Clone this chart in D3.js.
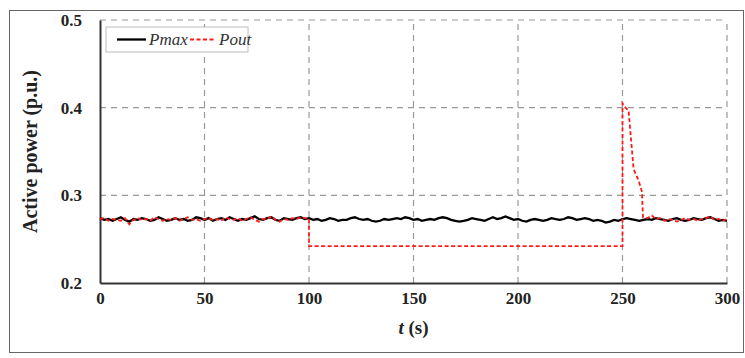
<!DOCTYPE html>
<html>
<head>
<meta charset="utf-8">
<script src="https://cdn.jsdelivr.net/npm/d3@7"></script>
<style>
    body { margin: 0; background: #fff; }
    svg text { font-family: "Liberation Serif", "Times New Roman", serif; }
</style>
</head>
<body>
<div id="chart"></div>
<script>
// x ticks / y ticks
const xTicks = [0, 50, 100, 150, 200, 250, 300];
const yTicks = [0.2, 0.3, 0.4, 0.5];

// Pmax, sampled every 2 s from 0 to 300
const pmaxStep = 2;
const pmax = [
    0.274,0.272,0.273,0.271,0.273,0.275,0.272,0.270,0.273,0.272,
    0.274,0.273,0.271,0.272,0.275,0.273,0.271,0.272,0.274,0.272,
    0.273,0.271,0.272,0.275,0.274,0.272,0.274,0.271,0.273,0.274,
    0.272,0.275,0.273,0.271,0.273,0.272,0.274,0.276,0.273,0.272,
    0.274,0.275,0.272,0.271,0.274,0.273,0.272,0.274,0.275,0.273,
    0.274,
    0.272,0.273,0.271,0.272,0.274,0.273,0.271,0.272,0.272,0.274,
    0.275,0.273,0.272,0.273,0.271,0.270,0.271,0.273,0.272,0.273,
    0.274,0.273,0.275,0.274,0.272,0.273,0.271,0.272,0.273,0.272,
    0.274,0.275,0.274,0.272,0.271,0.270,0.271,0.272,0.274,0.273,
    0.272,0.271,0.273,0.275,0.273,0.274,0.276,0.274,0.272,0.273,
    0.271,0.270,0.272,0.273,0.272,0.271,0.272,0.274,0.273,0.272,
    0.273,0.275,0.274,0.272,0.273,0.274,0.273,0.271,0.272,0.271,
    0.269,0.270,0.272,0.271,0.273,0.274,0.273,0.272,0.271,0.272,
    0.273,0.272,0.274,0.273,0.272,0.271,0.273,0.274,0.272,0.271,
    0.272,0.274,0.273,0.272,0.274,0.275,0.273,0.271,0.272,0.271
];

// Pout before the event, every 2 s from 0 to 100
const poutHead = [
    0.273,0.274,0.271,0.273,0.272,0.271,0.274,0.267,0.272,0.274,
    0.272,0.273,0.271,0.275,0.273,0.271,0.273,0.272,0.274,0.271,
    0.273,0.275,0.272,0.273,0.271,0.273,0.274,0.272,0.273,0.271,
    0.275,0.273,0.272,0.274,0.271,0.273,0.275,0.272,0.270,0.273,
    0.273,0.276,0.272,0.270,0.273,0.272,0.274,0.273,0.275,0.274,
    0.273
];
// Pout during curtailment and release
const poutEventT = [100, 100, 250, 250, 251.8, 252.9, 255.3, 257.7, 259.3, 259.8];
const poutEventV = [0.273, 0.242, 0.242, 0.405, 0.399, 0.397, 0.330, 0.317, 0.304, 0.275];
// Pout after recovery, every 2 s from 260 to 300
const poutTailStart = 260;
const poutTail = [
    0.275,0.274,0.277,0.273,0.274,0.271,0.273,0.272,0.270,0.272,
    0.274,0.272,0.273,0.271,0.273,0.274,0.276,0.272,0.273,0.271,
    0.273
];

const W = 745, H = 358;
const margin = {left: 100, right: 18, top: 20, bottom: 75};

const svg = d3.select("#chart").append("svg")
    .attr("width", W)
    .attr("height", H);

// outer frame
svg.append("rect")
    .attr("x", 9.5).attr("y", 10.5)
    .attr("width", 734).attr("height", 342)
    .attr("fill", "none")
    .attr("stroke", "#666")
    .attr("stroke-width", 1);

const x = d3.scaleLinear().domain([0, 300]).range([margin.left, W - margin.right]);
const y = d3.scaleLinear().domain([0.2, 0.5]).range([H - margin.bottom, margin.top]);

// grid
const grid = svg.append("g");
grid.selectAll(".vg")
    .data(xTicks.filter(d => d > 0))
    .enter().append("line")
    .attr("x1", d => x(d)).attr("x2", d => x(d))
    .attr("y1", y(0.2)).attr("y2", y(0.5))
    .attr("stroke", "#999").attr("stroke-width", 1.2)
    .attr("stroke-dasharray", "6,5");
grid.selectAll(".hg")
    .data(yTicks.filter(d => d > 0.2))
    .enter().append("line")
    .attr("x1", x(0)).attr("x2", x(300))
    .attr("y1", d => y(d)).attr("y2", d => y(d))
    .attr("stroke", "#999").attr("stroke-width", 1.2)
    .attr("stroke-dasharray", "6,5");

// axes
const xAxis = svg.append("g")
    .attr("transform", `translate(0,${y(0.2)})`)
    .call(d3.axisBottom(x).tickValues(xTicks).tickSize(0).tickPadding(9));
const yAxis = svg.append("g")
    .attr("transform", `translate(${x(0)},0)`)
    .call(d3.axisLeft(y).tickValues(yTicks).tickFormat(d3.format(".1f")).tickSize(0).tickPadding(18));
[xAxis, yAxis].forEach(a => {
    a.select(".domain").attr("stroke", "#333").attr("stroke-width", 2);
    a.selectAll("text")
        .attr("fill", "#222")
        .style("font-size", "17px")
        .style("font-weight", "bold")
        .style("font-family", "'Liberation Serif', serif");
});

// series
const pmaxData = pmax.map((v, i) => [i * pmaxStep, v]);
const poutData = poutHead.map((v, i) => [i * 2, v])
    .concat(poutEventT.map((t, i) => [t, poutEventV[i]]))
    .concat(poutTail.map((v, i) => [poutTailStart + i * 2, v]));

const line = d3.line().x(d => x(d[0])).y(d => y(d[1]));

svg.append("path")
    .datum(pmaxData)
    .attr("d", line)
    .attr("fill", "none")
    .attr("stroke", "#000")
    .attr("stroke-width", 2.3);

svg.append("path")
    .datum(poutData)
    .attr("d", line)
    .attr("fill", "none")
    .attr("stroke", "#ff1a1a")
    .attr("stroke-width", 1.8)
    .attr("stroke-dasharray", "4,2.5");

// axis titles
svg.append("text")
    .attr("transform", `translate(37,${(y(0.2) + y(0.5)) / 2}) rotate(-90)`)
    .attr("text-anchor", "middle")
    .style("font-size", "20px")
    .style("font-weight", "bold")
    .attr("fill", "#222")
    .text("Active power (p.u.)");

const xt = svg.append("text")
    .attr("x", x(150))
    .attr("y", 334)
    .attr("text-anchor", "middle")
    .style("font-size", "19px")
    .style("font-weight", "bold")
    .attr("fill", "#222");
xt.append("tspan").style("font-style", "italic").text("t");
xt.append("tspan").text(" (s)");

// legend
const lg = svg.append("g").attr("transform", "translate(106,27)");
lg.append("rect")
    .attr("width", 142).attr("height", 25)
    .attr("fill", "#fff")
    .attr("stroke", "#bbb");
lg.append("line")
    .attr("x1", 11).attr("x2", 40).attr("y1", 12.5).attr("y2", 12.5)
    .attr("stroke", "#000").attr("stroke-width", 2.3);
lg.append("text")
    .attr("x", 43).attr("y", 18)
    .style("font-size", "17px").style("font-style", "italic")
    .attr("fill", "#333")
    .text("Pmax");
lg.append("line")
    .attr("x1", 84).attr("x2", 110).attr("y1", 12.5).attr("y2", 12.5)
    .attr("stroke", "#ff1a1a").attr("stroke-width", 1.8)
    .attr("stroke-dasharray", "4,2.5");
lg.append("text")
    .attr("x", 113).attr("y", 18)
    .style("font-size", "17px").style("font-style", "italic")
    .attr("fill", "#333")
    .text("Pout");
</script>
</body>
</html>
